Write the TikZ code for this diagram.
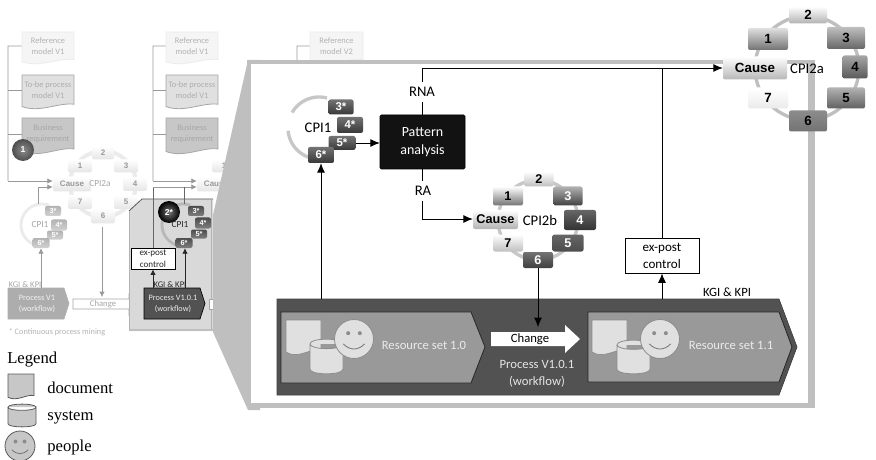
\documentclass[tikz,border=0pt]{standalone}
\usepackage{fontspec}
\setmainfont{Carlito}
\newfontfamily\arl{Liberation Sans}
\newfontfamily\tms{Liberation Serif}
\usetikzlibrary{arrows.meta,calc,shapes.geometric}
\newcommand{\fs}[1]{\fontsize{#1pt}{\the\dimexpr #1pt*13/10\relax}\selectfont}
\newcommand{\cpsz}{8}
% document icon: name, x, y, w, h(node), fill, draw, text colour, text
\newcommand{\docu}[9]{%
  \path[fill=#6,draw=#7,line width=.6pt] (#2,#3) -- ({#2+#4},#3) -- ({#2+#4},{#3+#5*0.86})
   .. controls ({#2+#4*.7},{#3+#5*.80}) and ({#2+#4*.35},{#3+#5*1.12}) .. (#2,{#3+#5*.93}) -- cycle;
  \node[font=\fs{6.3},align=center,text=#8,inner sep=0pt,minimum width={#4*0.75pt},minimum height={#5*0.66pt}] (#1) at ({#2+#4/2},{#3+#5*0.44}) {#9};}
% cylinder: x,y,w,h,fill,draw
\newcommand{\cyli}[6]{%
  \path[fill=#5,draw=#6,line width=.6pt] (#1,{#2+#4*.14}) -- (#1,{#2+#4*.86})
   .. controls (#1,{#2+#4*1.04}) and ({#1+#3},{#2+#4*1.04}) .. ({#1+#3},{#2+#4*.86})
   -- ({#1+#3},{#2+#4*.14}) .. controls ({#1+#3},{#2+#4*.32}) and (#1,{#2+#4*.32}) .. (#1,{#2+#4*.14})
   .. controls (#1,{#2-#4*.04}) and ({#1+#3},{#2-#4*.04}) .. ({#1+#3},{#2+#4*.14});}
% face: name,cx,cy,r,fill,draw
\newcommand{\facei}[6]{%
  \node[circle,fill=#5,draw=#6,line width=.6pt,minimum size={2*#4*0.75pt},inner sep=0pt] (#1) at (#2,#3) {};
  \fill[black!45] ({#2-#4*.3},{#3-#4*.3}) circle[radius=1.5pt];
  \fill[black!45] ({#2+#4*.3},{#3-#4*.3}) circle[radius=1.5pt];
  \draw[black!55,line width=.6pt] ({#2-#4*.55},{#3+#4*.25}) .. controls ({#2-#4*.2},{#3+#4*.6}) and ({#2+#4*.2},{#3+#4*.6}) .. ({#2+#4*.55},{#3+#4*.25});}
% cpi box: name,x,y,w,h,top,bottom,textcolour,text
\newcommand{\cpin}[9]{%
  \node[rounded corners=1.5pt,top color=#6,bottom color=#7,text=#8,inner sep=0pt,minimum width={#4*0.75pt},minimum height={#5*0.75pt},font=\arl\bfseries\fs{\cpsz}] (#1) at (#2,#3) {#9};}
% ring arc: cx,cy,r,a,b,colour,width
\newcommand{\ringarc}[7]{%
  \draw[#6,line width=#7] plot[domain=#4:#5,samples=40] ({#1+#3*cos(\x)},{#2-#3*sin(\x)});}
\newcommand{\fadebox}[5]{\cpin{#1}{#2}{#3}{#4}{#5}{white}{black!10}{black!40}}
\newcommand{\fadestar}[5]{\cpin{#1}{#2}{#3}{#4}{#5}{black!30}{black!18}{white}}
\newcommand{\midstar}[5]{\cpin{#1}{#2}{#3}{#4}{#5}{black!70}{black!50}{white}}
\newcommand{\mainstar}[5]{\cpin{#1}{#2}{#3}{#4}{#5}{black!55}{black!78}{white}}
\tikzset{
  x=0.75pt,y=-0.75pt,
  fadearrow/.style={draw=black!40,line width=.5pt,-{Latex[length=4pt,width=4pt]}},
  fadeline/.style={draw=black!40,line width=.5pt},
  darkarrow/.style={draw=black,line width=.7pt,-{Latex[length=7pt,width=6pt]}},
  darkline/.style={draw=black,line width=.7pt},
  smallarrow/.style={draw=black!85,line width=.5pt,-{Latex[length=4pt,width=4pt]}},
  smalltxt/.style={font=\fs{7},inner sep=0pt,align=center},
  maintxt/.style={font=\fs{9.5},inner sep=0pt,align=center},
  cpilabel/.style={font=\fs{11},inner sep=0pt,align=center},
}
\begin{document}
\begin{tikzpicture}
\useasboundingbox (0,0) rectangle (876,460);
% ---------- left column, faded
\docu{da}{22}{32}{52}{32}{black!4}{black!8}{black!30}{Reference\\model V1}
\docu{db}{22}{75}{52}{34}{black!12}{black!35}{black!32}{To-be process\\model V1}
\docu{dc}{22}{118}{52}{36}{black!22}{black!35}{black!35}{Business\\requirement}
\node[circle,inner color=black!45,outer color=black!70,text=white,minimum size={22*0.75pt},inner sep=0pt,font=\arl\bfseries\fs{6.5}] (mark1) at (23,150) {1};
\coordinate (lbtop) at (8,46);
\coordinate (lbbot) at (8,181);
\draw[fadeline] (da.west) -- (lbtop) -- (lbbot);
\draw[fadeline] (db.west) -- (db.west -| lbtop);
\draw[fadeline] (dc.west) -- (dc.west -| lbtop);
% faded CPI2a
\renewcommand{\cpsz}{6}
\node[circle,draw=black!8,line width=3pt,minimum size={66*0.75pt},inner sep=0pt] (lring) at (103,184) {};
\fadebox{l2}{103}{153}{22}{13}{2}
\fadebox{l1}{80}{166}{24}{13}{1}
\fadebox{l3}{126}{166}{24}{13}{3}
\fadebox{lc}{72}{184}{38}{15}{Cause}
\fadebox{l4}{135}{184}{24}{14}{4}
\fadebox{l7}{80}{202}{24}{14}{7}
\fadebox{l5}{126}{202}{24}{14}{5}
\fadebox{l6}{103}{216}{24}{15}{6}
\node[smalltxt,text=black!35] (lcpi) at (100,184) {CPI2a};
\draw[fadearrow] (lbbot) -- (lc.west |- lbbot);
% faded CPI1
\renewcommand{\cpsz}{5.5}
\ringarc{42}{225}{21}{70}{290}{black!8}{2.2pt}
\node[smalltxt,text=black!35] (lcpit) at (40,225) {CPI1};
\fadestar{s3}{53}{211}{16}{10}{3*}
\fadestar{s4}{59}{225}{16}{11}{4*}
\fadestar{s5}{55}{235}{16}{9}{5*}
\fadestar{s6}{41}{243}{17}{10}{6*}
\coordinate (lcpiup) at (38,204);
\coordinate (lcpibend) at (38,187);
\draw[fadearrow] (lcpiup) -- (lcpibend) -- (lc.west |- lcpibend);
% process V1
\path[fill=black!32,draw=black!32] (8,288) -- (64,288) -- (69,303.5) -- (64,319) -- (8,319) -- cycle;
\node[smalltxt,text=black!5,font=\fs{6.2}] (pv1) at (37,304) {Process V1\\(workflow)};
\node[smalltxt,text=black!35,font=\fs{6.5}] (kl) at (25,285) {KGI \& KPI};
\coordinate (pv1up) at (41,288);
\draw[fadearrow] (pv1up) -- (s6.south -| pv1up);
\path[fill=white,draw=black!35,line width=.5pt] (73,299) -- (129,299) -- (129,294) -- (140,304) -- (129,315) -- (129,309) -- (73,309) -- cycle;
\node[smalltxt,text=black!35,font=\fs{6.5}] (chl) at (103,304) {Change};
\coordinate (l6b) at (102,227);
\coordinate (l6e) at (102,297);
\draw[fadearrow] (l6b) -- (l6e);
\node[smalltxt,text=black!30,font=\fs{6.2}] (note) at (57,332) {* Continuous process mining};
% second column, faded
\docu{ea}{166}{32}{52}{32}{black!4}{black!8}{black!30}{Reference\\model V1}
\docu{eb}{166}{75}{52}{34}{black!12}{black!35}{black!32}{To-be process\\model V1}
\docu{ec}{166}{118}{52}{36}{black!22}{black!35}{black!35}{Business\\requirement}
\coordinate (mbtop) at (153,46);
\coordinate (mbbot) at (153,181);
\draw[fadeline] (ea.west) -- (mbtop) -- (mbbot);
\draw[fadeline] (eb.west) -- (eb.west -| mbtop);
\draw[fadeline] (ec.west) -- (ec.west -| mbtop);
\renewcommand{\cpsz}{6}
\fadebox{m1}{224}{166}{24}{13}{1}
\fadebox{mc}{216}{184}{38}{15}{Cause}
\draw[fadearrow] (mbbot) -- (mc.west |- mbbot);
% grey small panel
\path[fill=black!15] (129,211) -- (142,199) -- (213,199) -- (213,331) -- (129,331) -- cycle;
\draw[black!25,line width=2pt] (129,330) -- (213,330);
\draw[black!65,line width=.6pt] (129,211) -- (142,199) -- (213,199);
\draw[black!30,line width=.6pt] (129,211) -- (129,330);
\draw[black!30,line width=.6pt] (211,199) -- (211,330);
\ringarc{183}{225}{21}{70}{290}{black!28}{2.2pt}
\node[circle,inner color=black!55,outer color=black,text=white,minimum size={22*0.75pt},inner sep=0pt,font=\arl\bfseries\fs{6.5}] (mark2) at (169,212) {2*};
\node[smalltxt,text=black!85] (mcpit) at (180,225) {CPI1};
\renewcommand{\cpsz}{5.5}
\midstar{t3}{196}{211}{16}{10}{3*}
\midstar{t4}{203}{223}{16}{11}{4*}
\midstar{t5}{199}{234}{16}{9}{5*}
\midstar{t6}{184}{243}{17}{10}{6*}
\path[fill=black!68,draw=black,line width=.5pt] (144,288) -- (200,288) -- (205,303.5) -- (200,319) -- (144,319) -- cycle;
\node[smalltxt,text=black!8,font=\fs{6.2}] (pv2) at (173,304) {Process V1.0.1\\(workflow)};
\node[smalltxt,text=black!85,font=\fs{6.5}] (km) at (170,285) {KGI \& KPI};
\node[draw=black,line width=.7pt,fill=white,minimum width={44*0.75pt},minimum height={21*0.75pt},inner sep=0pt,font=\fs{6.8},align=center,text=black!85] (ex1) at (153,258.5) {ex-post\\control};
\coordinate (pv2a) at (153,288);
\coordinate (pv2b) at (185,288);
\draw[smallarrow] (pv2a) -- (ex1.south);
\coordinate (mbend) at (153,187);
\draw[draw=black!60,line width=.5pt] (ex1.north) -- (mbend);
\draw[draw=black!40,line width=.5pt,-{Latex[length=4pt,width=4pt]}] (mbend) -- (mc.west |- mbend);
\coordinate (t1up) at (184,187);
\coordinate (t1dn) at (184,204);
\draw[draw=black!60,line width=.5pt] (t1dn) -- (t1up);
\draw[smallarrow] (pv2b) -- (t6.south -| pv2b);
% third column doc
\docu{fa}{310}{32}{53}{32}{black!4}{black!8}{black!30}{Reference\\model V2}
\coordinate (tbtop) at (297,46);
\coordinate (tbbot) at (297,62);
\draw[fadeline] (fa.west) -- (tbtop) -- (tbbot);
\path[fill=white,draw=black!35,line width=.5pt] (209,299) rectangle (216,309);
% funnel and panel
\fill[black!25] (248,60) -- (213,215) -- (213,332) -- (248,410) -- (260,410) -- (260,60) -- cycle;
\node[fill=black!25,minimum width={568*0.75pt},minimum height={348*0.75pt},inner sep=0pt] (panelouter) at (531,234) {};
\node[fill=white,minimum width={557*0.75pt},minimum height={339*0.75pt},inner sep=0pt] (panel) at (529.5,233.5) {};
% CPI1 main
\renewcommand{\cpsz}{8.5}
\ringarc{319}{128}{31}{75}{150}{black!22}{2.5pt}
\ringarc{319}{128}{31}{185}{250}{black!22}{2.5pt}
\node[cpilabel] (cpi1) at (318,128) {CPI1};
\mainstar{a3}{341}{107}{25}{15}{3*}
\mainstar{a4}{350}{125}{26}{16}{4*}
\mainstar{a5}{342}{143}{27}{14}{5*}
\mainstar{a6}{321}{155}{26}{16}{6*}
% Pattern
\node[fill=black!93,draw=black,rounded corners=1pt,minimum width={85*0.75pt},minimum height={54*0.75pt},inner sep=0pt,text=white,font=\fs{10.5},align=center] (pattern) at (422.5,142) {Pattern\\analysis};
\draw[darkarrow] (a5.east) -- (pattern.west |- a5.east);
% CPI2b
\renewcommand{\cpsz}{9.5}
\node[circle,draw=black!22,line width=2.5pt,minimum size={80*0.75pt},inner sep=0pt] (ringb) at (538,220) {};
\cpin{b2}{539}{179}{29}{15}{white}{black!25}{black}{2}
\cpin{b1}{508}{196}{30}{19}{white}{black!55}{black}{1}
\cpin{b3}{568}{196}{29}{19}{black!30}{black!75}{white}{3}
\cpin{b4}{580}{220}{32}{20}{black!60}{black!80}{white}{4}
\cpin{b5}{568}{243}{31}{17}{black!60}{black!70}{white}{5}
\cpin{b6}{538}{260}{30}{16}{black!55}{black!75}{white}{6}
\cpin{b7}{508}{243}{30}{17}{white}{black!25}{black}{7}
\cpin{bc}{495.5}{219.5}{45}{19}{white}{black!30}{black}{Cause}
\node[cpilabel] (cpi2b) at (540,220) {CPI2b};
% band
\path[fill=black!68,draw=black!75,line width=.5pt] (277,299) -- (779,299) -- (797,347) -- (779,395) -- (277,395) -- cycle;
\path[fill=black!40,draw=black!85,line width=.6pt] (281,312) -- (471,312) -- (485,347) -- (471,383) -- (281,383) -- cycle;
\path[fill=black!40,draw=black!85,line width=.6pt] (588,312) -- (779,312) -- (792,347) -- (779,382) -- (588,382) -- cycle;
\node[maintxt,text=black!8] (rs1) at (424,345) {Resource set 1.0};
\node[maintxt,text=black!8] (rs2) at (731,345) {Resource set 1.1};
\path[fill=black!12,draw=black!45,line width=.5pt] (286,320) -- (321,320) -- (321,350) .. controls (312,347) and (298,360) .. (286,352) -- cycle;
\cyli{310}{339}{33}{35}{black!12}{black!45}
\facei{fa1}{354}{339}{19.5}{black!12}{black!45}
\path[fill=black!12,draw=black!45,line width=.5pt] (592,320) -- (627,320) -- (627,350) .. controls (618,347) and (604,360) .. (592,352) -- cycle;
\cyli{617}{340}{33}{34}{black!12}{black!45}
\facei{fa2}{660}{339}{19.5}{black!12}{black!45}
% change arrow
\path[fill=white] (491,332) -- (565,332) -- (565,325) -- (580,339) -- (565,353) -- (565,346) -- (491,346) -- cycle;
\node[maintxt,text=black] (chm) at (530,339) {Change};
\node[maintxt,text=black!10] (pm) at (537,374) {Process V1.0.1\\(workflow)};
\node[maintxt] (kgi) at (727,292) {KGI \& KPI};
% ex-post
\node[draw=black,line width=.7pt,fill=white,minimum width={74*0.75pt},minimum height={35*0.75pt},inner sep=0pt,font=\fs{9.8},align=center] (ex2) at (662,255.5) {ex-post\\control};
\coordinate (exfoot) at (662,299);
\draw[darkarrow] (exfoot) -- (ex2.south);
\coordinate (cpifoot) at (321,299);
\draw[darkarrow] (cpifoot) -- (a6.south);
\coordinate (chtop) at (538,327);
\draw[darkarrow] (b6.south) -- (chtop);
% CPI2a
\renewcommand{\cpsz}{10}
\node[circle,draw=black!25,line width=2.5pt,minimum size={104*0.75pt},inner sep=0pt] (ringa) at (807,68) {};
\cpin{c2}{808}{15}{38}{17}{white}{black!30}{black}{2}
\cpin{c1}{768}{39}{40}{22}{black!12}{black!55}{black}{1}
\cpin{c3}{846}{38}{38}{22}{black!25}{black!60}{black}{3}
\cpin{c4}{855}{67}{25}{23}{black!35}{black!65}{black}{4}
\cpin{c5}{846}{98}{38}{21}{black!30}{black!62}{black}{5}
\cpin{c6}{808}{121}{38}{21}{black!45}{black!55}{black}{6}
\cpin{c7}{768}{98}{40}{21}{white}{black!8}{black}{7}
\cpin{cc}{755}{68}{64}{23}{white}{black!28}{black}{Cause}
\node[cpilabel] (cpi2a) at (807,69) {CPI2a};
% main connectors
\coordinate (rnatop) at (422,68);
\coordinate (rabot) at (422,219);
\draw[darkline] (pattern.north -| rnatop) -- (rnatop);
\draw[darkarrow] (rnatop) -- (cc.west |- rnatop);
\draw[darkline] (ex2.north) -- (ex2.north |- rnatop);
\draw[darkline] (pattern.south -| rabot) -- (rabot);
\draw[darkarrow] (rabot) -- (bc.west |- rabot);
\node[maintxt,fill=white,inner ysep=4pt,inner xsep=2pt,font=\fs{11}] (rna) at (422,92) {RNA};
\node[maintxt,fill=white,inner ysep=4pt,inner xsep=2pt,font=\fs{11}] (ra) at (423,191) {RA};
% legend
\node[anchor=west,font=\tms\fs{12.5},inner sep=0pt] (lg) at (7,360) {Legend};
\docu{ld}{8}{374}{26}{25}{black!22}{black!65}{black}{}
\cyli{8}{404}{28}{23}{black!22}{black!65}
\facei{lp}{20}{446}{15}{black!22}{black!65}
\node[anchor=west,font=\tms\fs{12.5},inner sep=0pt] (ltd) at (47,388) {document};
\node[anchor=west,font=\tms\fs{12.5},inner sep=0pt] (lts) at (47,418) {system};
\node[anchor=west,font=\tms\fs{12.5},inner sep=0pt] (ltp) at (47,447) {people};
\end{tikzpicture}
\end{document}
